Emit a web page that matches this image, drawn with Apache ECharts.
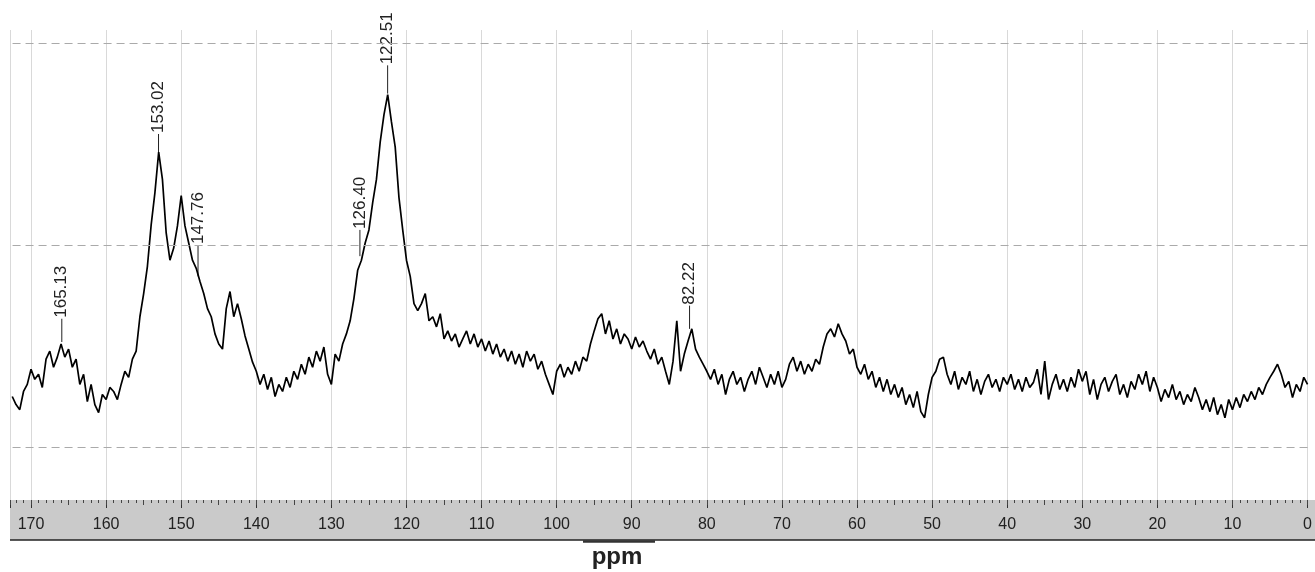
<!DOCTYPE html>
<html>
<head>
<meta charset="utf-8">
<title>ppm</title>
<script src="https://cdn.jsdelivr.net/npm/echarts@6/dist/echarts.min.js"></script>
<style>
    html, body { margin: 0; padding: 0; background: #fff; }
    #chart { width: 1315px; height: 572px; }
</style>
</head>
<body>
<div id="chart"></div>
<script>
// 谱图采样：从 172.5 ppm 开始，每 0.5 ppm 一个点，直到 0 ppm
var ppmStart = 172.5;
var ppmStep = 0.5;
var intensity = [
    // 172.5 - 160
    50, 42, 37, 55, 62, 77, 67, 72, 59, 87, 95, 79, 89, 102, 89, 97, 79, 87, 62, 72, 45, 62, 42, 34, 52, 47,
    // 159.5 - 140
    59, 55, 47, 62, 75, 69, 87, 95, 129, 152, 179, 220, 252, 292, 265, 212, 185, 197, 219, 249,
    219, 202, 185, 177, 164, 152, 137, 129, 112, 102, 97, 137, 154, 129, 142, 127, 110, 97, 84, 75,
    // 139.5 - 120
    62, 72, 57, 69, 50, 62, 55, 69, 59, 75, 67, 82, 72, 89, 79, 95, 85, 99, 72, 62,
    92, 85, 102, 112, 125, 147, 175, 185, 202, 215, 242, 265, 302, 329, 349, 322, 297, 247, 215, 185,
    // 119.5 - 100
    169, 142, 135, 142, 152, 125, 129, 119, 132, 107, 115, 105, 112, 99, 107, 115, 102, 112, 99, 107,
    95, 105, 92, 102, 89, 97, 85, 95, 82, 92, 79, 95, 85, 92, 77, 85, 72, 62, 52, 75,
    // 99.5 - 80
    82, 69, 79, 72, 85, 75, 89, 85, 102, 115, 127, 132, 112, 125, 107, 117, 102, 112, 107, 97,
    109, 99, 105, 95, 87, 97, 82, 89, 75, 62, 85, 125, 75, 92, 105, 117, 97, 89, 82, 75,
    // 79.5 - 60
    67, 77, 62, 72, 52, 67, 75, 62, 69, 55, 67, 75, 62, 79, 69, 59, 72, 62, 75, 59,
    67, 82, 89, 75, 85, 72, 82, 75, 87, 82, 99, 112, 117, 109, 122, 112, 105, 92, 97, 79,
    // 59.5 - 40
    72, 82, 67, 75, 59, 69, 55, 67, 52, 62, 49, 59, 42, 52, 39, 55, 35, 29, 52, 69,
    75, 87, 89, 72, 62, 75, 57, 69, 62, 75, 55, 67, 52, 65, 72, 59, 67, 55, 69, 62,
    // 39.5 - 20
    72, 57, 67, 55, 69, 59, 64, 77, 52, 85, 47, 62, 72, 57, 67, 55, 69, 59, 77, 65,
    75, 52, 67, 47, 62, 69, 55, 65, 72, 52, 62, 49, 65, 57, 72, 62, 75, 55, 69, 59,
    // 19.5 - 0
    45, 57, 49, 62, 47, 55, 42, 52, 45, 59, 49, 37, 47, 35, 49, 32, 42, 29, 47, 37,
    49, 39, 52, 45, 55, 47, 59, 52, 62, 69, 75, 82, 72, 59, 65, 49, 62, 55, 69, 62
];
// 水平虚线位置
var hLines = [0, 200, 400];
// 峰标注
var peakLabels = ['165.13', '153.02', '147.76', '126.40', '122.51', '82.22'];
var peakPos = [165.9, 153.02, 147.76, 126.2, 122.51, 82.3];
var peakBase = [104, 290, 169, 189, 350, 117];
var peakTop = [127, 310, 200, 215, 378, 140];

var spectrum = [];
for (var i = 0; i < intensity.length; i++) {
    spectrum.push([ppmStart - i * ppmStep, intensity[i]]);
}
var peaks = [];
for (var k = 0; k < peakPos.length; k++) {
    peaks.push([peakPos[k], peakBase[k], peakTop[k]]);
}

var font = '"Liberation Sans", Arial, sans-serif';
var myEchart = echarts.init(document.getElementById('chart'));
var option = {
    backgroundColor: '#fff',
    animation: false,
    grid: { left: 10, right: 4, top: 30, bottom: 72 },
    xAxis: [{
        type: 'value',
        min: 0,
        max: 172.8,
        interval: 10,
        inverse: true,
        axisLine: { show: false, onZero: false },
        axisTick: { length: 8, lineStyle: { color: '#333' } },
        minorTick: { show: true, splitNumber: 10, length: 3, lineStyle: { color: '#444' } },
        axisLabel: {
            margin: 17,
            fontSize: 16,
            color: '#222',
            fontFamily: font,
            showMaxLabel: false,
            formatter: function (v) { return v % 10 === 0 ? String(v) : ''; }
        },
        splitLine: { show: true, lineStyle: { color: '#d9d9d9' } }
    }, {
        // 5 ppm 的中等刻度
        type: 'value',
        min: 0,
        max: 172.8,
        interval: 5,
        inverse: true,
        position: 'bottom',
        axisLine: { show: false, onZero: false },
        axisTick: { length: 5, lineStyle: { color: '#444' } },
        axisLabel: { show: false },
        splitLine: { show: false }
    }],
    yAxis: {
        type: 'value',
        min: -52.5,
        max: 413,
        show: false,
        splitLine: { show: false }
    },
    graphic: [
        { type: 'rect', z: -10, shape: { x: 10, y: 500, width: 1305, height: 40 }, style: { fill: '#cacaca' } },
        { type: 'line', shape: { x1: 10, y1: 540, x2: 1315, y2: 540 }, style: { stroke: '#222', lineWidth: 1.5 } },
        { type: 'line', shape: { x1: 583, y1: 541.5, x2: 655, y2: 541.5 }, style: { stroke: '#333', lineWidth: 2.5 } },
        {
            type: 'text', x: 617, y: 557,
            style: { text: 'ppm', fill: '#222', fontSize: 24, fontWeight: 'bold', fontFamily: font, align: 'center', verticalAlign: 'middle' }
        }
    ],
    series: [{
        name: 'spectrum',
        type: 'line',
        data: spectrum,
        showSymbol: false,
        symbol: 'none',
        lineStyle: { color: '#000', width: 1.7 },
        silent: true,
        markLine: {
            silent: true,
            symbol: 'none',
            label: { show: false },
            lineStyle: { color: '#aaa', type: [8, 5], width: 1 },
            data: hLines.map(function (v) { return { yAxis: v }; })
        }
    }, {
        name: 'peaks',
        type: 'custom',
        silent: true,
        data: peaks,
        renderItem: function (params, api) {
            var b = api.coord([api.value(0), api.value(1)]);
            var t = api.coord([api.value(0), api.value(2)]);
            return {
                type: 'group',
                children: [{
                    type: 'line',
                    shape: { x1: b[0], y1: b[1], x2: t[0], y2: t[1] },
                    style: { stroke: '#222', lineWidth: 1 }
                }, {
                    type: 'text',
                    x: t[0],
                    y: t[1] - 1,
                    rotation: Math.PI / 2,
                    style: {
                        text: peakLabels[params.dataIndex],
                        fill: '#222',
                        fontSize: 17,
                        fontFamily: font,
                        align: 'left',
                        verticalAlign: 'middle'
                    }
                }]
            };
        }
    }]
};
myEchart.setOption(option);
window.addEventListener('resize', function () {
    myEchart.resize();
});
</script>
</body>
</html>
